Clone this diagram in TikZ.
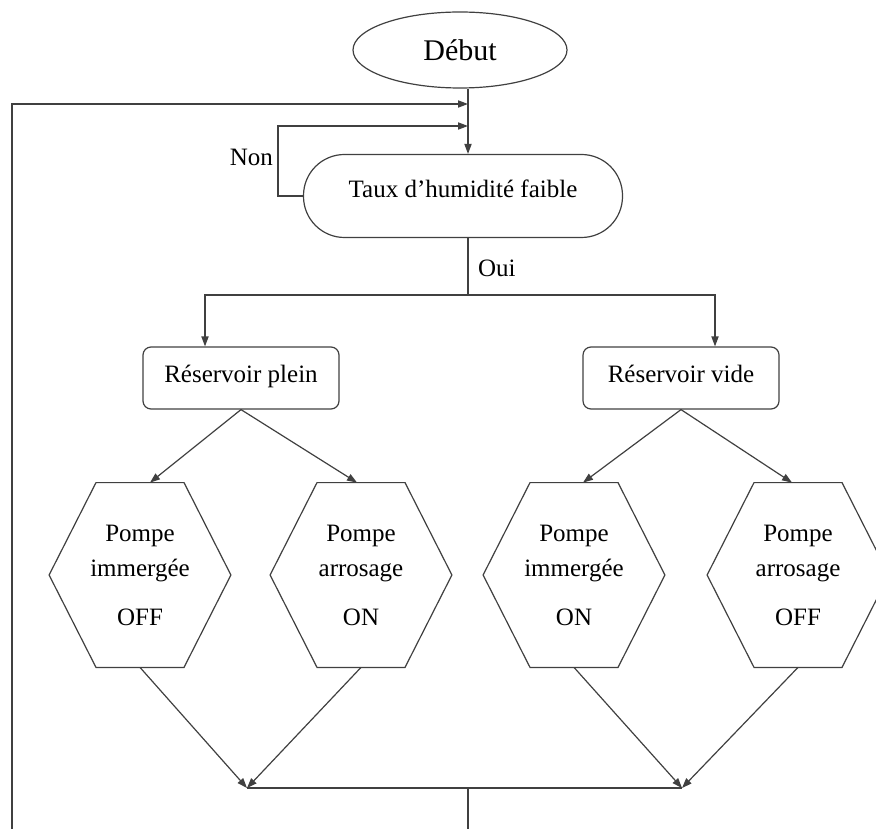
\documentclass[tikz,border=0pt]{standalone}
\usepackage{fontspec}
\setmainfont{Liberation Serif}
\newfontfamily\tnr{Liberation Serif}
\usepackage{tikz}
\usetikzlibrary{arrows.meta,shapes.geometric}

\tikzset{
  ln/.style={draw=black!75, line width=0.6pt},
  fl/.style={ln, -{Triangle[length=5pt,width=3.6pt]}},
  blok/.style={ln, rounded corners=4pt, minimum width=98pt, minimum height=31pt,
    text height=9pt, text depth=5pt},
  hexa/.style={minimum width=90.5pt, minimum height=92pt, inner sep=0pt, align=center,
    font=\tnr\fontsize{12.5}{17.5}\selectfont},
}

\begin{document}
\begin{tikzpicture}[x=0.5pt, y=-0.5pt, every node/.style={font=\tnr\fontsize{12.5}{15}\selectfont}]
    \useasboundingbox (0,0) rectangle (876,828);

    % start and test
    \node[ellipse, ln, minimum width=107pt, minimum height=38pt, font=\tnr\fontsize{15}{17}\selectfont] (debut) at (460,50) {Début};
    \node[ln, rounded corners=20.5pt, minimum width=159.5pt, minimum height=41.5pt, text height=9pt, text depth=7pt] (taux) at (463,196) {Taux d’humidité faible};

    \node[anchor=east] (non) at (280,157) {Non};
    \node[anchor=west] (oui) at (471,268) {Oui};

    \coordinate (in1) at (468,104);
    \coordinate (in2) at (468,126);
    \coordinate (lbot) at (12,830);
    \coordinate (split) at (468,295);

    \draw[fl] (debut.south -| split) -- (taux.north -| split);
    \draw[fl] (lbot) |- (in1);
    \draw[fl] (taux.west) -- ++(-25,0) |- (in2);

    % tanks
    \node[blok] (plein) at (241,378) {Réservoir plein};
    \node[blok] (vide) at (681,378) {Réservoir vide};

    \draw[ln] (taux.south -| split) -- (split);
    \draw[fl] (split) -| ([xshift=-18pt]plein.north);
    \draw[fl] (split) -| ([xshift=17pt]vide.north);

    % pumps
    \node[hexa] (p1) at (140,575) {Pompe\\immergée\\[7pt]OFF};
    \node[hexa] (p2) at (361,575) {Pompe\\arrosage\\[7pt]ON};
    \node[hexa] (p3) at (574,575) {Pompe\\immergée\\[7pt]ON};
    \node[hexa] (p4) at (798,575) {Pompe\\arrosage\\[7pt]OFF};

    \foreach \h in {p1,p2,p3,p4}
        \draw[ln] (\h.west) -- ([xshift=-22pt]\h.north) -- ([xshift=22pt]\h.north) -- (\h.east)
            -- ([xshift=22pt]\h.south) -- ([xshift=-22pt]\h.south) -- cycle;

    \draw[fl] (plein.south) -- ([xshift=5pt]p1.north);
    \draw[fl] (plein.south) -- ([xshift=-2pt]p2.north);
    \draw[fl] (vide.south) -- ([xshift=4.5pt]p3.north);
    \draw[fl] (vide.south) -- ([xshift=-3pt]p4.north);

    % merge and back to the loop
    \coordinate (m1) at (247,788);
    \coordinate (m2) at (682,788);
    \coordinate (mbot) at (468,830);

    \draw[fl] (p1.south) -- (m1);
    \draw[fl] (p2.south) -- (m1);
    \draw[fl] (p3.south) -- (m2);
    \draw[fl] (p4.south) -- (m2);
    \draw[ln] (m1) -- (m2);
    \draw[ln] (m1 -| split) -- (mbot);
\end{tikzpicture}
\end{document}
